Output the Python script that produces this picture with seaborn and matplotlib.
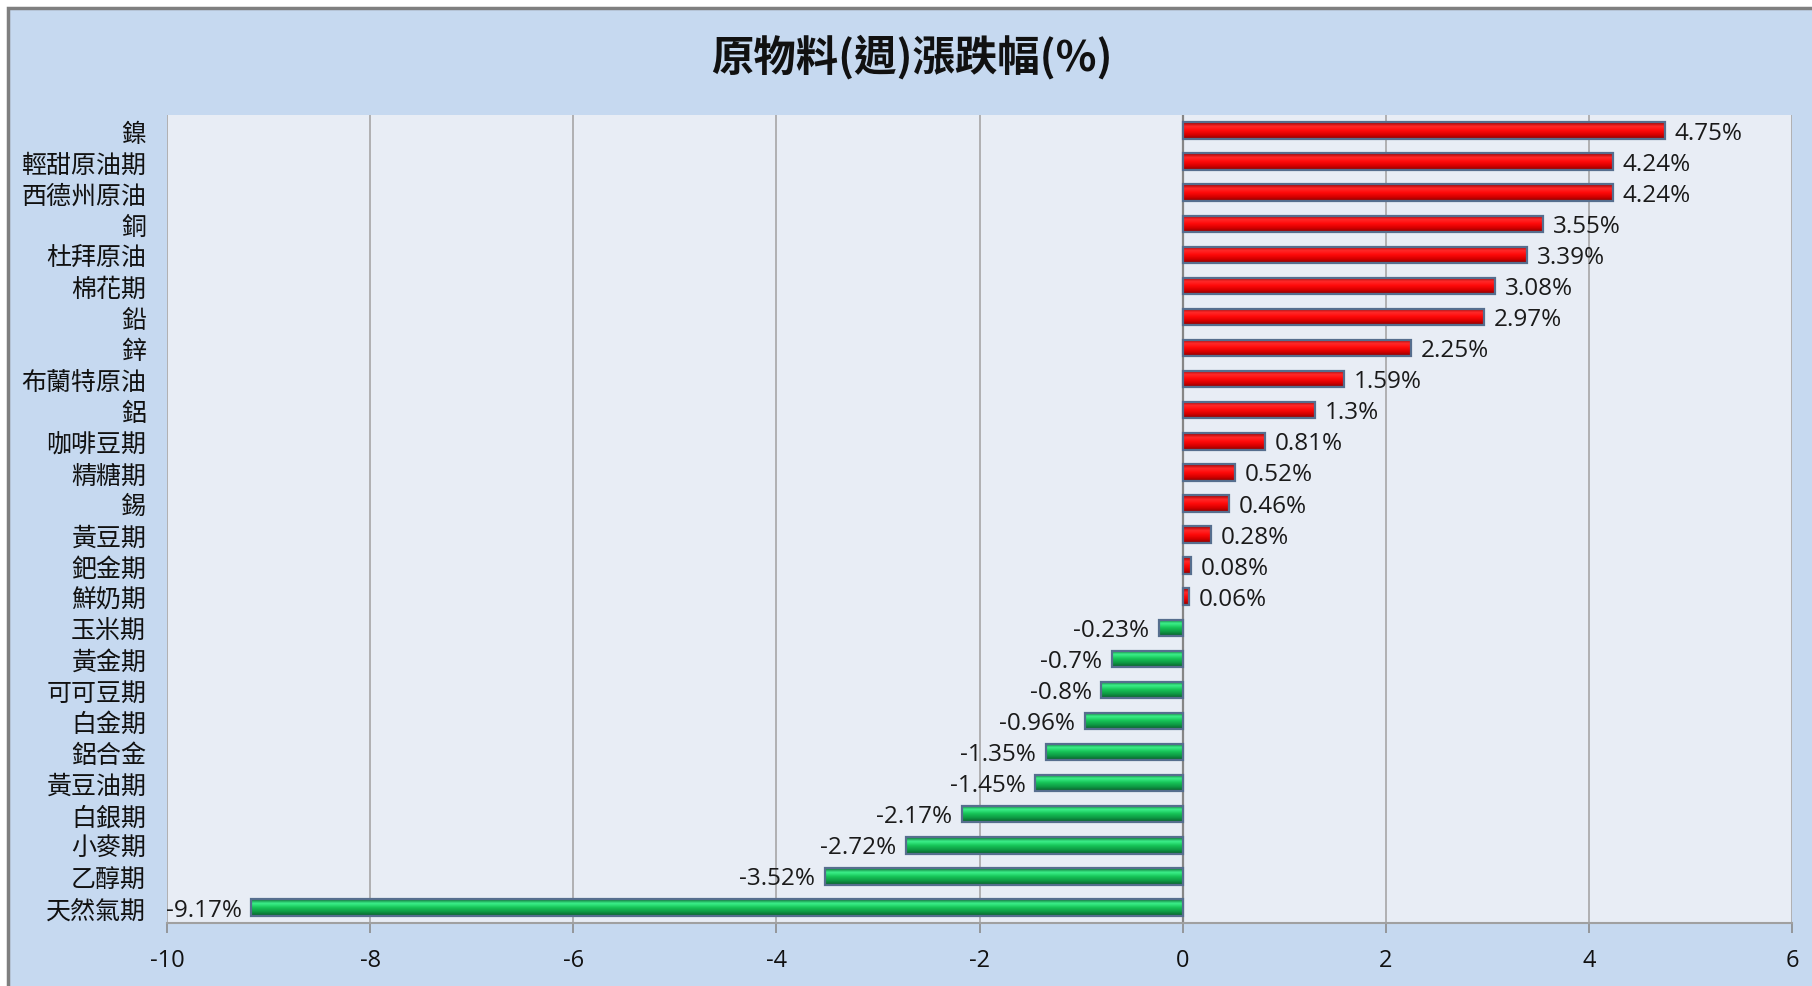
import numpy as np
import pandas as pd
import matplotlib
matplotlib.use("Agg")
import matplotlib.pyplot as plt
from matplotlib.patches import Rectangle
from matplotlib.colors import LinearSegmentedColormap
import seaborn as sns

items = ["鎳", "輕甜原油期", "西德州原油", "銅", "杜拜原油", "棉花期", "鉛", "鋅",
         "布蘭特原油", "鋁", "咖啡豆期", "精糖期", "錫", "黃豆期", "鈀金期", "鮮奶期",
         "玉米期", "黃金期", "可可豆期", "白金期", "鋁合金", "黃豆油期", "白銀期",
         "小麥期", "乙醇期", "天然氣期"]
values = [4.75, 4.24, 4.24, 3.55, 3.39, 3.08, 2.97, 2.25, 1.59, 1.3, 0.81, 0.52,
          0.46, 0.28, 0.08, 0.06, -0.23, -0.7, -0.8, -0.96, -1.35, -1.45, -2.17,
          -2.72, -3.52, -9.17]
x_ticks = [-10, -8, -6, -4, -2, 0, 2, 4, 6]
title = "原物料(週)漲跌幅(%)"

df = pd.DataFrame({"item": items, "value": values})
df["sign"] = np.where(df["value"] >= 0, "up", "down")

sns.set_theme(style="white")
plt.rcParams["font.family"] = ["Noto Sans CJK TC", "DejaVu Sans"]

W, H = 1812, 987
fig = plt.figure(figsize=(W / 100, H / 100), dpi=100)
fig.patch.set_facecolor("white")
# chart area with grey border on top/left
bg = Rectangle((8 / W, -0.01), 1.01, (H - 9) / H + 0.01, transform=fig.transFigure,
               facecolor="#C6D9F0", edgecolor="#7F7F7F", linewidth=2.5, zorder=-5)
fig.patches.append(bg)

ax = fig.add_axes([167 / W, 1 - 924 / H, (1792 - 167) / W, (924 - 116) / H])
ax.set_zorder(1)
ax.set_facecolor("#E8EDF5")

sns.barplot(data=df, x="value", y="item", hue="sign", order=items,
            palette={"up": "#FF1A1A", "down": "#1FC45A"}, orient="h", width=0.53,
            dodge=False, legend=False, edgecolor="#566E8E", linewidth=1.6, ax=ax,
            saturation=1, zorder=3)

red_cmap = LinearSegmentedColormap.from_list("r", ["#9A0000", "#FF2A2A", "#FF0A0A", "#D80000", "#8A0000"])
green_cmap = LinearSegmentedColormap.from_list("g", ["#0B6E33", "#3CF08A", "#16C457", "#0E9A44", "#0A5E2C"])
grad = np.linspace(0, 1, 64).reshape(-1, 1)
for p in list(ax.patches):
    w = p.get_width()
    if np.isnan(w) or w == 0:
        continue
    x0, y0 = p.get_x(), p.get_y()
    h = p.get_height()
    cmap = red_cmap if w > 0 else green_cmap
    im = ax.imshow(grad, cmap=cmap, aspect="auto", extent=[x0, x0 + w, y0 + h, y0],
                   zorder=3.5, interpolation="bilinear")
    im.set_clip_path(p)
    p.set_zorder(4)
    p.set_facecolor("none")
    # data label
    xe = x0 + w
    yc = y0 + h / 2
    ax.annotate(f"{w:g}%", xy=(xe, yc), xytext=(7 if w > 0 else -7, -1.5),
                textcoords="offset points", ha="left" if w > 0 else "right",
                va="center", fontsize=17.5, family=["Open Sans", "DejaVu Sans"],
                color="#1A1A1A", zorder=5)

ax.set_xlim(-10, 6)
ax.set_ylim(len(items) - 0.5, -0.5)
ax.set_xticks(x_ticks)
ax.set_xticklabels([f"{t:g}" for t in x_ticks], fontsize=17, family=["Open Sans", "DejaVu Sans"])
ax.xaxis.grid(True, color="#A6A6A6", linewidth=1.2, zorder=1)
ax.set_axisbelow(True)
ax.axvline(0, color="#868686", linewidth=1.6, zorder=2.5)
ax.tick_params(axis="x", which="both", bottom=True, length=7, width=1.2, color="#8C8C8C",
               pad=11, labelcolor="#111111")
ax.tick_params(axis="y", length=0, pad=15, labelsize=18, labelcolor="#111111")
ax.set_xlabel("")
ax.set_ylabel("")
for s in ["top", "right", "left"]:
    ax.spines[s].set_visible(False)
ax.spines["bottom"].set_color("#A0A0A0")
ax.spines["bottom"].set_linewidth(1.5)

fig.text(912 / W, 1 - 57 / H, title, ha="center", va="center", fontsize=30.5,
         fontweight="bold", color="#111111")

fig.savefig("out.png", dpi=100, facecolor=fig.get_facecolor())
